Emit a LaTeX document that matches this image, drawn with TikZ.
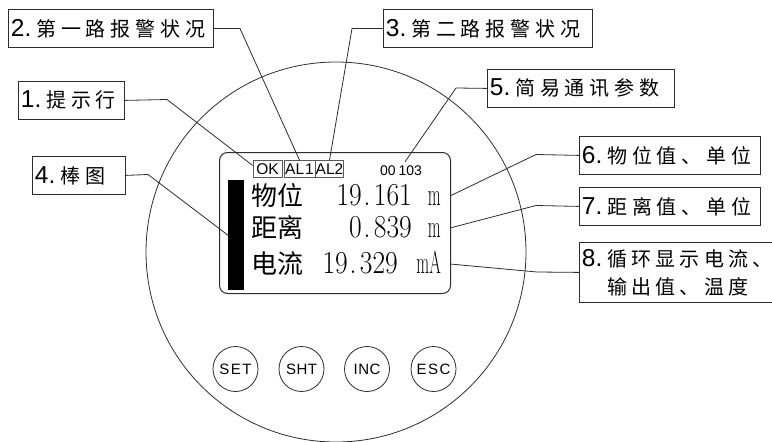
\documentclass[tikz,border=0pt]{standalone}
\usepackage{fontspec}
\usetikzlibrary{calc}
\newfontfamily\arialf{Liberation Sans}
\newfontfamily\cjkf{Noto Sans CJK SC}
\makeatletter
\newcommand\spcd[2]{\def\my@k{#1}\@tfor\my@c:=#2\do{\my@c\kern\my@k}}
\makeatother
\newcommand\labnum[1]{{\arialf\fontsize{24.5}{28}\selectfont #1.}\kern5pt}
\newcommand\labtxt[1]{{\cjkf\fontsize{20}{28}\selectfont\spcd{4.8pt}{#1}}}
\newcommand\labtxtn[1]{{\cjkf\fontsize{20}{28}\selectfont\spcd{4.2pt}{#1}}}
\newcommand\lab[2]{\labnum{#1}\labtxt{#2}}
\newcommand\scrnum[1]{{\fontsize{32}{32}\selectfont\scalebox{0.86}[1]{#1}}}
\newcommand\scrunit[1]{{\fontsize{32}{32}\selectfont\scalebox{0.52}[1]{#1}}}
\newcommand\scrcjk[1]{{\cjkf\fontsize{26}{26}\selectfont #1}}
\definecolor{lc}{RGB}{45,45,45}
\begin{document}
\begin{tikzpicture}[x=1pt,y=-1pt]
\clip (0,0) rectangle (772,442);
\tikzset{
  lbox/.style={draw=lc, line width=0.8pt, inner xsep=2.5pt, inner ysep=0pt, align=left, anchor=north west, minimum height=38pt, font=\fontsize{20}{28}\selectfont},
  conn/.style={draw=lc, line width=0.8pt},
  stbox/.style={draw=black!65, line width=0.7pt, inner sep=0pt, minimum height=17pt, font=\arialf\fontsize{15.5}{15.5}\selectfont},
  btn/.style={draw=lc, line width=0.8pt, circle, minimum size=45pt, inner sep=0pt, font=\arialf\fontsize{15}{15}\selectfont}
}
% outer circle
\draw[lc, line width=0.8pt] (336,252) circle [radius=190pt];
% screen
\node[draw=lc, line width=1pt, rounded corners=8pt, minimum width=231pt, minimum height=141pt, anchor=north west, inner sep=0pt] (scr) at (219,152) {};
\node[fill=black, minimum width=16pt, minimum height=110pt, anchor=north west, inner sep=0pt] (bar) at (228,180) {};
% status boxes
\node[stbox, minimum width=29pt] (ok) at (267.5,169) {OK};
\node[stbox, minimum width=31pt] (al1) at (299.5,169) {AL\kern1pt1};
\node[stbox, minimum width=27pt] (al2) at (329.5,169) {AL2};
\node[inner sep=0pt, font=\arialf\fontsize{14}{14}\selectfont] (num) at (401,171) {00\kern3pt103};
% screen text
\node[anchor=base west, inner sep=0pt] (r1a) at (251,205) {\scrcjk{物位}};
\node[anchor=base east, inner sep=0pt] (r1b) at (412,205) {\scrnum{19\kern2pt.\kern4pt161}};
\node[anchor=base east, inner sep=0pt] (r1c) at (441,205) {\scrunit{m}};
\node[anchor=base west, inner sep=0pt] (r2a) at (251,237) {\scrcjk{距离}};
\node[anchor=base east, inner sep=0pt] (r2b) at (412,237) {\scrnum{0\kern2pt.\kern4pt839}};
\node[anchor=base east, inner sep=0pt] (r2c) at (441,237) {\scrunit{m}};
\node[anchor=base west, inner sep=0pt] (r3a) at (251,273) {\scrcjk{电流}};
\node[anchor=base east, inner sep=0pt] (r3b) at (398,273) {\scrnum{19\kern2pt.\kern4pt329}};
\node[anchor=base east, inner sep=0pt] (r3c) at (441,273) {\scrunit{mA}};
% buttons
\node[btn] (set) at (235.5,369) {S\kern1.5ptE\kern1.5ptT};
\node[btn] (sht) at (301.5,369) {S\kern0.5ptH\kern0.5ptT};
\node[btn] (inc) at (367,369) {I\kern0.5ptN\kern0.5ptC};
\node[btn] (esc) at (433.5,369) {E\kern1.5ptS\kern1.5ptC};
% label boxes
\node[lbox, minimum width=106pt, text width=101pt] (b1) at (18,81) {\lab{1}{提示行}};
\node[lbox, minimum width=205pt, text width=200pt] (b2) at (8,9) {\lab{2}{第一路报警状况}};
\node[lbox, minimum width=209pt, text width=204pt] (b3) at (383,9) {\lab{3}{第二路报警状况}};
\node[lbox, minimum width=93pt, text width=88pt] (b4) at (32,156) {\lab{4}{棒图}};
\node[lbox, minimum width=187pt, text width=182pt] (b5) at (487,69) {\lab{5}{简易通讯参数}};
\node[lbox, minimum width=181pt, text width=176pt] (b6) at (579,136) {\lab{6}{物位值、单位}};
\node[lbox, minimum width=181pt, text width=176pt] (b7) at (579,187) {\lab{7}{距离值、单位}};
\node[lbox, minimum width=215pt, text width=210pt, minimum height=60pt] (b8) at (579,242)
  {\labnum{8}\labtxtn{循环显示电流、}\\\phantom{\labnum{8}}\labtxtn{输出值、温度}};
% anchor points on screen
\coordinate (p6) at (450,196);
\coordinate (p7) at (450,228);
\coordinate (p8) at (450,264);
% connectors
\draw[conn] (b1.east) -- (167,99.5) -- ($(ok.north west)!0.3!(ok.south west)$);
\draw[conn] (b2.east) -- (240,28.5) -- (al1.north);
\draw[conn] (b3.west) -- (352,28.5) -- (al2.north);
\draw[conn] (b4.east) -- (148,174.5) -- (bar.west);
\draw[conn] (b5.west) -- (456,88) -- ($(num.north)+(4,-4)$);
\draw[conn] (b6.west) -- (536,154.5) -- (p6);
\draw[conn] (b7.west) -- (536,205.5) -- (p7);
\draw[conn] (b8.west) -- (537,272) -- (p8);
\end{tikzpicture}
\end{document}
